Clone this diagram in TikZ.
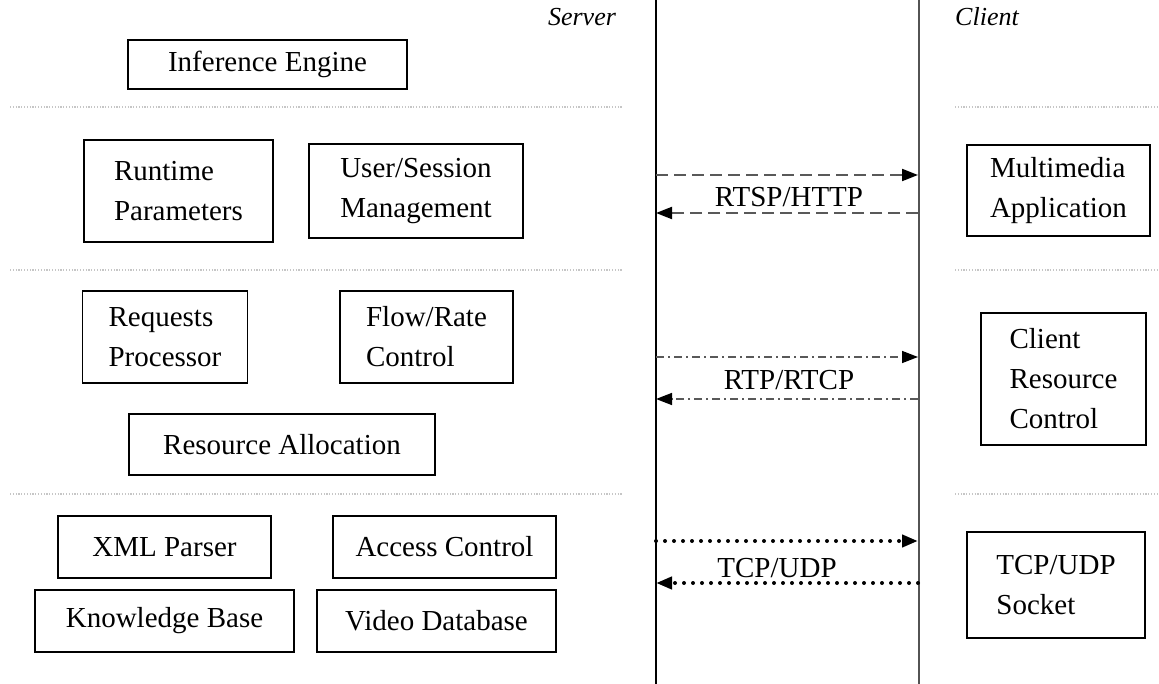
\documentclass[tikz,border=0pt]{standalone}
\usepackage{fontspec}
\setmainfont{Liberation Serif}
\usetikzlibrary{arrows.meta}
\tikzstyle{block} = [rectangle, draw, line width=1.2pt, align=left,
    font=\fontsize{29}{40}\selectfont, inner sep=0pt]
\tikzstyle{side} = [font=\fontsize{26}{30}\selectfont\itshape]
\tikzstyle{proto} = [font=\fontsize{29}{34}\selectfont]
\tikzstyle{sep} = [draw=gray!45, line width=1.2pt, dash pattern=on 1.2pt off 1.6pt]
\tikzstyle{rtsp} = [draw=gray!70!black, line width=2pt, dash pattern=on 12pt off 6pt,
    -{Triangle[length=16pt,width=12pt,color=black]}]
\tikzstyle{rtp} = [draw=gray!70!black, line width=1.5pt, dash pattern=on 8pt off 4pt on 2pt off 4pt,
    -{Triangle[length=16pt,width=12pt,color=black]}]
\tikzstyle{tcp} = [draw=black, line width=4pt, line cap=round, dash pattern=on 0pt off 9pt,
    -{Triangle[length=16pt,width=12pt,line cap=butt]}]

\begin{document}
\begin{tikzpicture}[x=1pt,y=-1pt]
  \useasboundingbox (0,0) rectangle (1159,684);
  % server / client lines
  \coordinate (srvtop) at (656,0);
  \coordinate (srvbot) at (656,684);
  \coordinate (clitop) at (919,0);
  \coordinate (clibot) at (919,684);
  \draw [line width=1.2pt] (srvtop) -- (srvbot);
  \draw [line width=2pt, gray!65!black] (clitop) -- (clibot);
  \node [side] (server) at (582,17) {Server};
  \node [side] (client) at (987,17) {Client};
  % layer separators
  \foreach \y in {107,270,494} {
    \draw [sep] (10,\y) -- (622,\y);
    \draw [sep] (955,\y) -- (1159,\y);
  }
  % nodes
  \node [block, minimum width=279pt, minimum height=49pt] (engine) at (267.5,64.5) {Inference Engine};
  \node [block, minimum width=189pt, minimum height=102pt] (runtime) at (178.5,191) {Runtime\\Parameters};
  \node [block, minimum width=214pt, minimum height=94pt] (session) at (416,191) {User/Session\\Management};
  \node [block, minimum width=165pt, minimum height=92pt] (requests) at (165,337) {Requests\\Processor};
  \node [block, minimum width=173pt, minimum height=92pt] (flow) at (426.5,337) {Flow/Rate\\Control};
  \node [block, minimum width=306pt, minimum height=61pt] (alloc) at (282,444.5) {Resource Allocation};
  \node [block, minimum width=213pt, minimum height=62pt] (xml) at (164.5,547) {XML Parser};
  \node [block, minimum width=223pt, minimum height=62pt] (access) at (444.5,547) {Access Control};
  \node [block, minimum width=259pt, minimum height=62pt] (knowledge) at (164.5,621) {Knowledge Base};
  \node [block, minimum width=239pt, minimum height=62pt] (video) at (436.5,621) {Video Database};
  \node [block, minimum width=183pt, minimum height=91pt] (multimedia) at (1058.5,190.5) {Multimedia\\Application};
  \node [block, minimum width=165pt, minimum height=132pt] (clientres) at (1063.5,379) {Client\\Resource\\Control};
  \node [block, minimum width=178pt, minimum height=106pt] (socket) at (1056,585) {TCP/UDP\\Socket};
  % edges
  \coordinate (s1) at (656,175);  \coordinate (c1) at (918,175);
  \coordinate (s2) at (656,213);  \coordinate (c2) at (918,213);
  \coordinate (s3) at (656,357);  \coordinate (c3) at (918,357);
  \coordinate (s4) at (656,399);  \coordinate (c4) at (918,399);
  \coordinate (s5) at (656,541);  \coordinate (c5) at (918,541);
  \coordinate (s6) at (656,583);  \coordinate (c6) at (918,583);
  \path [rtsp] (s1) -- (c1);
  \path [rtsp] (c2) -- (s2);
  \path [rtp] (s3) -- (c3);
  \path [rtp] (c4) -- (s4);
  \path [tcp] (s5) -- (c5);
  \path [tcp] (c6) -- (s6);
  \node [proto] (rtsplabel) at (789,197) {RTSP/HTTP};
  \node [proto] (rtplabel) at (789,380) {RTP/RTCP};
  \node [proto] (tcplabel) at (777,568) {TCP/UDP};
\end{tikzpicture}
\end{document}
